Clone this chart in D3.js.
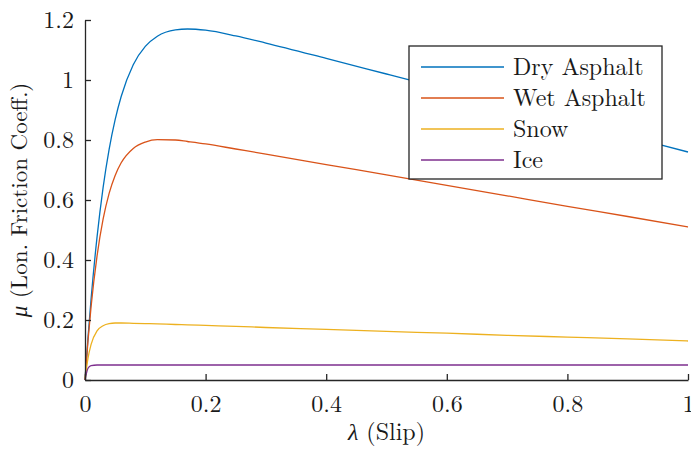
<!DOCTYPE html>
<html>
<head>
<meta charset="utf-8">
<script src="https://cdn.jsdelivr.net/npm/d3@7"></script>
</head>
<body style="margin:0; background:#fff">
<div id="chart"></div>
<script>
// slip values (x)
var slip = [0, 0.005, 0.01, 0.02, 0.03, 0.04, 0.05, 0.06, 0.08, 0.1, 0.12, 0.15, 0.17, 0.2, 0.25, 0.3, 0.4, 0.5, 0.6, 0.7, 0.8, 0.9, 1.0];

// friction coefficient
var dryAsphalt = [0, 0.142, 0.268, 0.477, 0.641, 0.769, 0.868, 0.945, 1.051, 1.112, 1.146, 1.167, 1.170, 1.166, 1.147, 1.123, 1.072, 1.020, 0.968, 0.916, 0.864, 0.812, 0.760];
var wetAsphalt = [0, 0.132, 0.243, 0.414, 0.536, 0.622, 0.682, 0.724, 0.772, 0.793, 0.801, 0.800, 0.795, 0.787, 0.770, 0.753, 0.718, 0.684, 0.649, 0.614, 0.579, 0.545, 0.510];
var snow       = [0, 0.073, 0.118, 0.164, 0.181, 0.188, 0.190, 0.190, 0.189, 0.188, 0.187, 0.185, 0.184, 0.182, 0.179, 0.175, 0.169, 0.162, 0.156, 0.149, 0.143, 0.137, 0.130];
var ice        = [0, 0.039, 0.048, 0.050, 0.050, 0.050, 0.050, 0.050, 0.050, 0.050, 0.050, 0.050, 0.050, 0.050, 0.050, 0.050, 0.050, 0.050, 0.050, 0.050, 0.050, 0.050, 0.050];

var seriesNames = ['Dry Asphalt', 'Wet Asphalt', 'Snow', 'Ice'];
var seriesColors = ['#0072BD', '#D95319', '#EDB120', '#7E2F8E'];
var xTicks = [0, 0.2, 0.4, 0.6, 0.8, 1];
var yTicks = [0, 0.2, 0.4, 0.6, 0.8, 1, 1.2];

var FONT = '"Latin Modern Roman", "Liberation Serif", serif';
var W = 691, H = 452;
var margin = {left: 85, right: 3, top: 20, bottom: 72};

var svg = d3.select('#chart').append('svg')
    .attr('width', W).attr('height', H);

var x = d3.scaleLinear().domain([0, 1]).range([margin.left, W - margin.right]);
var y = d3.scaleLinear().domain([0, 1.2]).range([H - margin.bottom, margin.top]);

var series = [dryAsphalt, wetAsphalt, snow, ice];

var line = d3.line()
    .x(function (d, i) { return x(slip[i]); })
    .y(function (d) { return y(d); })
    .curve(d3.curveMonotoneX);

svg.append('g').selectAll('path')
    .data(series)
    .enter()
    .append('path')
    .attr('d', line)
    .attr('fill', 'none')
    .attr('stroke', function (d, i) { return seriesColors[i]; })
    .attr('stroke-width', 1.3);

// axes, ticks point inward like matlab
var fmt = d3.format('~g');
var xAxis = svg.append('g')
    .attr('transform', 'translate(0,' + y(0) + ')')
    .call(d3.axisBottom(x).tickValues(xTicks).tickSizeInner(-6).tickSizeOuter(0).tickFormat(fmt));
xAxis.selectAll('text').attr('dy', null).attr('y', 32);

var yAxis = svg.append('g')
    .attr('transform', 'translate(' + x(0) + ',0)')
    .call(d3.axisLeft(y).tickValues(yTicks).tickSizeInner(-6).tickSizeOuter(0).tickFormat(fmt));
yAxis.selectAll('text').attr('x', -11).attr('dy', '0.32em');

svg.selectAll('.domain').attr('stroke', '#262626').attr('stroke-width', 1.3);
svg.selectAll('.tick line').attr('stroke', '#262626').attr('stroke-width', 1.3);
svg.selectAll('.tick text')
    .attr('fill', '#1a1a1a')
    .style('font-family', FONT)
    .style('font-size', '24px');

// axis labels
var xl = svg.append('text')
    .attr('x', (x(0) + x(1)) / 2)
    .attr('y', 440)
    .attr('text-anchor', 'middle')
    .attr('fill', '#1a1a1a')
    .style('font-family', FONT)
    .style('font-size', '24px');
xl.append('tspan').style('font-style', 'italic').text('λ');
xl.append('tspan').text(' (Slip)');

var yl = svg.append('text')
    .attr('transform', 'translate(27,' + (y(0) + y(1.2)) / 2 + ') rotate(-90)')
    .attr('text-anchor', 'middle')
    .attr('fill', '#1a1a1a')
    .style('font-family', FONT)
    .style('font-size', '23px');
yl.append('tspan').style('font-style', 'italic').text('μ');
yl.append('tspan').text(' (Lon. Friction Coeff.)');

// legend
var legend = svg.append('g').attr('transform', 'translate(409,46)');
legend.append('rect')
    .attr('width', 253).attr('height', 133)
    .attr('fill', '#fff')
    .attr('stroke', '#262626')
    .attr('stroke-width', 1.3);

var item = legend.selectAll('.legend')
    .data(seriesNames)
    .enter()
    .append('g')
    .attr('class', 'legend')
    .attr('transform', function (d, i) { return 'translate(0,' + (21 + i * 31) + ')'; });

item.append('line')
    .attr('x1', 12).attr('x2', 95)
    .attr('stroke', function (d, i) { return seriesColors[i]; })
    .attr('stroke-width', 1.5);

item.append('text')
    .attr('x', 104)
    .attr('dy', '0.32em')
    .attr('fill', '#1a1a1a')
    .style('font-family', FONT)
    .style('font-size', '24px')
    .text(function (d) { return d; });
</script>
</body>
</html>
